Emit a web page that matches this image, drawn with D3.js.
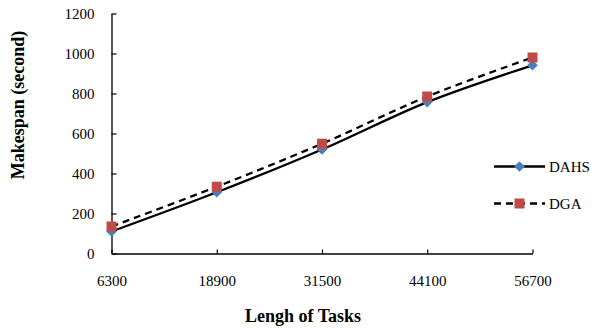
<!DOCTYPE html>
<html>
<head>
<meta charset="utf-8">
<script src="https://cdn.jsdelivr.net/npm/d3@7"></script>
<style>
  html, body { margin: 0; padding: 0; background: #fff; }
  svg { display: block; }
</style>
</head>
<body>
<svg id="chart" width="593" height="328"></svg>
<script>
// Task lengths on the x axis
const categories = [6300, 18900, 31500, 44100, 56700];
// Makespan (seconds) per algorithm
const dahsValues = [110, 306, 520, 757, 941];
const dgaValues = [135, 334, 549, 785, 980];
const yTicks = [0, 200, 400, 600, 800, 1000, 1200];

const FONT = "'Liberation Serif', 'Times New Roman', Times, serif";
const svg = d3.select("#chart").style("font-family", FONT);
const plotLeft = 111.5, plotRight = 532.5, plotTop = 13.5, plotBottom = 253.5;

const x = d3.scalePoint().domain(categories).range([plotLeft, plotRight]);
const y = d3.scaleLinear().domain([0, 1200]).range([plotBottom, plotTop]);

// Y axis with inward ticks
const yAxis = svg.append("g")
  .attr("transform", `translate(${plotLeft},0)`)
  .call(d3.axisRight(y).tickValues(yTicks).tickSize(5).tickSizeOuter(0).tickFormat(d3.format("d")))
  .attr("font-family", FONT).attr("font-size", 15);
yAxis.select(".domain").attr("stroke", "#000").attr("stroke-width", 1.3);
yAxis.selectAll(".tick line").attr("stroke", "#000").attr("stroke-width", 1.2);
yAxis.selectAll(".tick text")
  .attr("x", -17)
  .attr("text-anchor", "end")
  .attr("fill", "#000");

// X axis with ticks pointing up
const xAxis = svg.append("g")
  .attr("transform", `translate(0,${plotBottom})`)
  .call(d3.axisTop(x).tickSize(4).tickSizeOuter(0).tickFormat(d => String(d)))
  .attr("font-family", FONT).attr("font-size", 15);
xAxis.select(".domain").attr("stroke", "#000").attr("stroke-width", 1.3);
xAxis.selectAll(".tick line").attr("stroke", "#000").attr("stroke-width", 1.2);
xAxis.selectAll(".tick text")
  .attr("y", 32)
  .attr("dy", 0)
  .attr("fill", "#000");

// Axis titles
svg.append("text")
  .attr("x", 303).attr("y", 322)
  .attr("text-anchor", "middle")
  .attr("font-family", FONT).attr("font-size", 18).attr("font-weight", "bold")
  .text("Lengh of Tasks");
svg.append("text")
  .attr("transform", "translate(24,105) rotate(-90)")
  .attr("text-anchor", "middle")
  .attr("font-family", FONT).attr("font-size", 18).attr("font-weight", "bold")
  .text("Makespan (second)");

const line = d3.line()
  .x((d, i) => x(categories[i]))
  .y(d => y(d))
  .curve(d3.curveCatmullRom.alpha(0.5));

const plot = svg.append("g");

// DAHS: solid line
plot.append("path")
  .datum(dahsValues)
  .attr("d", line)
  .attr("fill", "none").attr("stroke", "#000").attr("stroke-width", 2.3);
// DGA: dashed line
plot.append("path")
  .datum(dgaValues)
  .attr("d", line)
  .attr("fill", "none").attr("stroke", "#000").attr("stroke-width", 2.3)
  .attr("stroke-dasharray", "7,5");

// Blue diamonds (rotated squares) for DAHS
const dSize = 7.5;
plot.selectAll(".dahs-pt")
  .data(dahsValues)
  .join("rect")
  .attr("class", "dahs-pt")
  .attr("x", -dSize / 2).attr("y", -dSize / 2)
  .attr("width", dSize).attr("height", dSize)
  .attr("transform", (d, i) => `translate(${x(categories[i])},${y(d)}) rotate(45)`)
  .attr("fill", "#4a7ebb");

// Red squares for DGA
plot.selectAll(".dga-pt")
  .data(dgaValues)
  .join("rect")
  .attr("class", "dga-pt")
  .attr("x", (d, i) => x(categories[i]) - 5)
  .attr("y", d => y(d) - 5)
  .attr("width", 10).attr("height", 10)
  .attr("fill", "#be4b48");

// Legend
const legend = svg.append("g").attr("font-family", FONT).attr("font-size", 15);
const lx0 = 494, lx1 = 545, lxm = (lx0 + lx1) / 2;
legend.append("line")
  .attr("x1", lx0).attr("x2", lx1).attr("y1", 166.5).attr("y2", 166.5)
  .attr("stroke", "#000").attr("stroke-width", 2.3);
legend.append("rect")
  .attr("x", -dSize / 2).attr("y", -dSize / 2)
  .attr("width", dSize).attr("height", dSize)
  .attr("transform", `translate(${lxm},166.5) rotate(45)`)
  .attr("fill", "#4a7ebb");
legend.append("text").attr("x", 549).attr("y", 172).text("DAHS");

legend.append("line")
  .attr("x1", lx0).attr("x2", lx1).attr("y1", 203.5).attr("y2", 203.5)
  .attr("stroke", "#000").attr("stroke-width", 2.3)
  .attr("stroke-dasharray", "7,5");
legend.append("rect")
  .attr("x", lxm - 5).attr("y", 198.5)
  .attr("width", 10).attr("height", 10).attr("fill", "#be4b48");
legend.append("text").attr("x", 549).attr("y", 209).text("DGA");
</script>
</body>
</html>
